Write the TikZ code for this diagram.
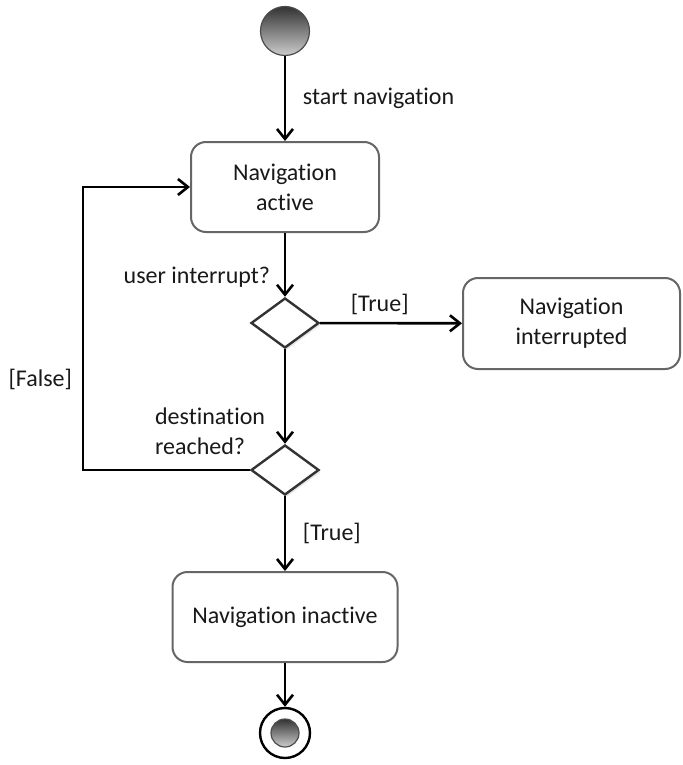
\documentclass[tikz,border=0pt]{standalone}
\usepackage{fontspec}
\setmainfont{Carlito}[Ligatures=NoCommon]
\usetikzlibrary{arrows.meta}
\usetikzlibrary{shapes.geometric}
\usetikzlibrary{positioning}
\usetikzlibrary{shadows}
\tikzset{
    state/.style = {rectangle, rounded corners=7.5pt, draw=black!60, line width=1pt, fill=white, align=center, text=black!90},
    choice/.style = {diamond, draw=black!80, line width=1.2pt, fill=white, minimum width=34pt, minimum height=25pt, inner sep=0pt, drop shadow={opacity=0.2, shadow xshift=1pt, shadow yshift=-1pt}},
    initial/.style = {circle, draw=black!70, line width=0.6pt, top color=black!80, bottom color=black!20, minimum size=24.5pt, inner sep=0pt},
    finalout/.style = {circle, draw=black, line width=1.2pt, fill=white, minimum size=25pt, inner sep=0pt},
    finalin/.style = {circle, draw=black!70, line width=0.6pt, top color=black!80, bottom color=black!20, minimum size=14pt, inner sep=0pt},
    flow/.style = {-{Straight Barb[length=5pt,width=8pt]}, line width=1.3pt},
    note/.style = {text=black!90},
}
\begin{document}
\begin{tikzpicture}[
	x=0.5pt, y=-0.5pt,
	font=\fontsize{12}{15}\selectfont
]
\useasboundingbox (0,0) rectangle (683,765);
\node[initial] at (285,31) (start) {};
\node[state, minimum width=94pt, minimum height=45pt] at (285,187) (active) {Navigation\\active};
\node[choice] at (285,323) (interrupt) {};
\node[state, minimum width=108.5pt, minimum height=45.5pt] at (571.5,323.5) (interrupted) {Navigation\\interrupted};
\node[choice] at (285,470) (reached) {};
\node[state, minimum width=112.5pt, minimum height=45pt] at (285,617) (inactive) {Navigation inactive};
\node[finalout] at (285,733) (stop) {};
\node[finalin] at (285,733) (stopin) {};
\coordinate (loopb) at (83,470);
\coordinate (loopt) at (83,187);
%
\draw[flow] (start) edge node[note, right=5pt] {start navigation} (active);
\draw[flow] (active) edge node[note, left=3.5pt, pos=0.7] {user interrupt?} (interrupt);
\draw[flow] (interrupt) edge node[note, above, pos=0.42] {[True]} (interrupted);
\draw[flow] (interrupt) edge node[note, left=6pt, pos=0.87, align=left] {destination\\reached?} (reached);
%
\draw[flow] (reached.west) -- (loopb) -- node[note, left=1.5pt, pos=0.32] {[False]} (loopt) -- (active.west);
%
\draw[flow] (reached) edge node[note, right=5pt] {[True]} (inactive);
\draw[flow] (inactive) edge (stop);
\end{tikzpicture}
\end{document}
